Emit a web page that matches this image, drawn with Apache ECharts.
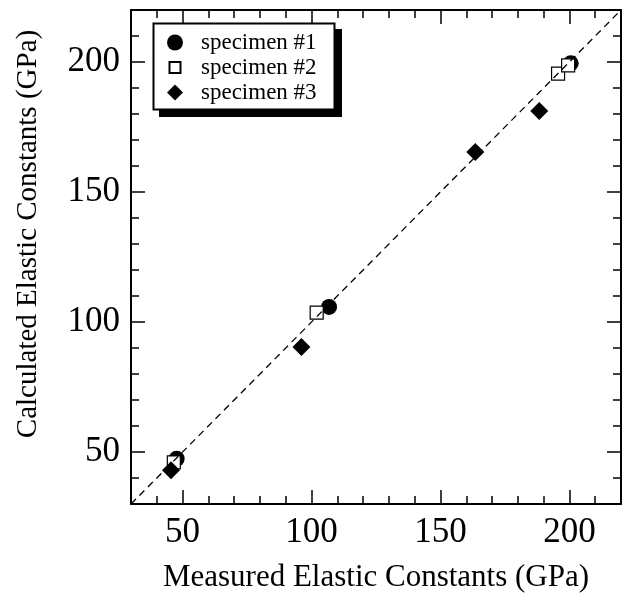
<!DOCTYPE html>
<html>
<head>
<meta charset="utf-8">
<script src="https://cdn.jsdelivr.net/npm/echarts@6/dist/echarts.min.js"></script>
<style>
html,body{margin:0;padding:0;background:#fff;}
#chart{width:627px;height:601px;}
</style>
</head>
<body>
<div id="chart"></div>
<script>
// data
var seriesNames = ['specimen #1', 'specimen #2', 'specimen #3'];
var spec1X = [47.7, 106.8, 200.5];
var spec1Y = [47.4, 105.8, 199.5];
var spec2X = [46.6, 102.0, 195.6, 199.5];
var spec2Y = [46.0, 103.6, 195.5, 198.7];
var spec3X = [45.5, 96.1, 163.5, 188.3];
var spec3Y = [43.0, 90.4, 165.4, 181.2];
var diagLine = [30, 220];          // y = x reference line
var axisRange = [30, 220];
var majorRange = [50, 200];        // labelled ticks 50,100,150,200
var minorStep = 10, majorStep = 50;

var font = "'Liberation Serif','Times New Roman',serif";

// plot box (px)
var W = 627, H = 601;
var box = {left: 131, right: 6, top: 10, bottom: 97};
var pw = W - box.left - box.right, ph = H - box.top - box.bottom;
var span = axisRange[1] - axisRange[0];
// grids for the long (major) ticks
var gx = {
	left: box.left + (majorRange[0] - axisRange[0]) / span * pw,
	right: box.right + (axisRange[1] - majorRange[1]) / span * pw,
	top: box.top, bottom: box.bottom
};
var gy = {
	left: box.left, right: box.right,
	top: box.top + (axisRange[1] - majorRange[1]) / span * ph,
	bottom: box.bottom + (majorRange[0] - axisRange[0]) / span * ph
};
// legend frame
var lg = {x: 153.5, y: 23.5, w: 181, h: 86, shadow: 6.5};

function zip(a, b){
	var out = [];
	for(var i=0;i<a.length;i++){ out.push([a[i], b[i]]); }
	return out;
}
function minorAxis(pos, grid, labels){
	return {
		type:'value', gridIndex:grid, position:pos,
		min:axisRange[0], max:axisRange[1], interval:minorStep,
		axisLine:{show:true, onZero:false, lineStyle:{color:'#000', width:2}},
		axisTick:{show:true, inside:true, length:8, lineStyle:{color:'#000', width:1.5}},
		splitLine:{show:false},
		axisLabel:{
			show:labels, color:'#000', fontFamily:font, fontSize:35, margin:11,
			formatter:function(v){ return v % majorStep === 0 ? String(v) : ''; }
		}
	};
}
function majorAxis(pos, grid){
	return {
		type:'value', gridIndex:grid, position:pos,
		min:majorRange[0], max:majorRange[1], interval:majorStep,
		axisLine:{show:false, onZero:false},
		axisTick:{show:true, inside:true, length:14, lineStyle:{color:'#000', width:1.5}},
		splitLine:{show:false},
		axisLabel:{show:false}
	};
}
function hiddenAxis(grid){
	return {type:'value', gridIndex:grid, show:false, min:axisRange[0], max:axisRange[1], splitLine:{show:false}};
}

var xBottom = minorAxis('bottom', 0, true);
xBottom.name = 'Measured Elastic Constants (GPa)';
xBottom.nameLocation = 'middle';
xBottom.nameGap = 58;
xBottom.nameTextStyle = {color:'#000', fontFamily:font, fontSize:31};
var yLeft = minorAxis('left', 0, true);
yLeft.name = 'Calculated Elastic Constants (GPa)';
yLeft.nameLocation = 'middle';
yLeft.nameGap = 88;
yLeft.nameTextStyle = {color:'#000', fontFamily:font, fontSize:29, padding:[0,0,0,46]};

// square legend icon, smaller than its box
var smallSquare = 'path://M0,0L0,0M16,16L16,16M2.5,2.5L13.5,2.5L13.5,13.5L2.5,13.5Z';

var myChart = echarts.init(document.getElementById('chart'), null, {renderer:'canvas'});
var option = {
	backgroundColor:'#fff',
	animation:false,
	grid:[
		{left:box.left, right:box.right, top:box.top, bottom:box.bottom, containLabel:false},
		{left:gx.left, right:gx.right, top:gx.top, bottom:gx.bottom, containLabel:false},
		{left:gy.left, right:gy.right, top:gy.top, bottom:gy.bottom, containLabel:false}
	],
	xAxis:[
		xBottom,
		minorAxis('top', 0, false),
		majorAxis('bottom', 1),
		majorAxis('top', 1),
		hiddenAxis(2)
	],
	yAxis:[
		yLeft,
		minorAxis('right', 0, false),
		hiddenAxis(1),
		majorAxis('left', 2),
		majorAxis('right', 2)
	],
	graphic:[
		{type:'rect', z:3, silent:true,
			shape:{x:lg.x + lg.shadow, y:lg.y + lg.shadow, width:lg.w, height:lg.h},
			style:{fill:'#000', stroke:'#000', lineWidth:2}},
		{type:'rect', z:3, silent:true,
			shape:{x:lg.x, y:lg.y, width:lg.w, height:lg.h},
			style:{fill:'#fff', stroke:'#000', lineWidth:2}}
	],
	legend:{
		data:[
			{name:seriesNames[0]},
			{name:seriesNames[1], icon:smallSquare},
			{name:seriesNames[2]}
		],
		orient:'vertical',
		left:166, top:31,
		padding:0,
		itemGap:2,
		itemWidth:16, itemHeight:16,
		z:5,
		textStyle:{color:'#000', fontFamily:font, fontSize:23, padding:[0,0,0,13]}
	},
	series:[
		{
			name:seriesNames[0], type:'scatter', xAxisIndex:0, yAxisIndex:0,
			symbol:'circle', symbolSize:16,
			itemStyle:{color:'#000', opacity:1},
			data:zip(spec1X, spec1Y)
		},
		{
			name:seriesNames[1], type:'scatter', xAxisIndex:0, yAxisIndex:0,
			symbol:'rect', symbolSize:13,
			itemStyle:{color:'#fff', borderColor:'#000', borderWidth:1.2, opacity:1},
			data:zip(spec2X, spec2Y)
		},
		{
			name:seriesNames[2], type:'scatter', xAxisIndex:0, yAxisIndex:0,
			symbol:'diamond', symbolSize:18,
			itemStyle:{color:'#000', opacity:1},
			data:zip(spec3X, spec3Y)
		},
		{
			name:'y=x', type:'line', xAxisIndex:0, yAxisIndex:0,
			symbol:'none', silent:true,
			lineStyle:{color:'#000', width:1.3, type:[7,5]},
			data:zip(diagLine, diagLine)
		}
	]
};
myChart.setOption(option);
</script>
</body>
</html>
